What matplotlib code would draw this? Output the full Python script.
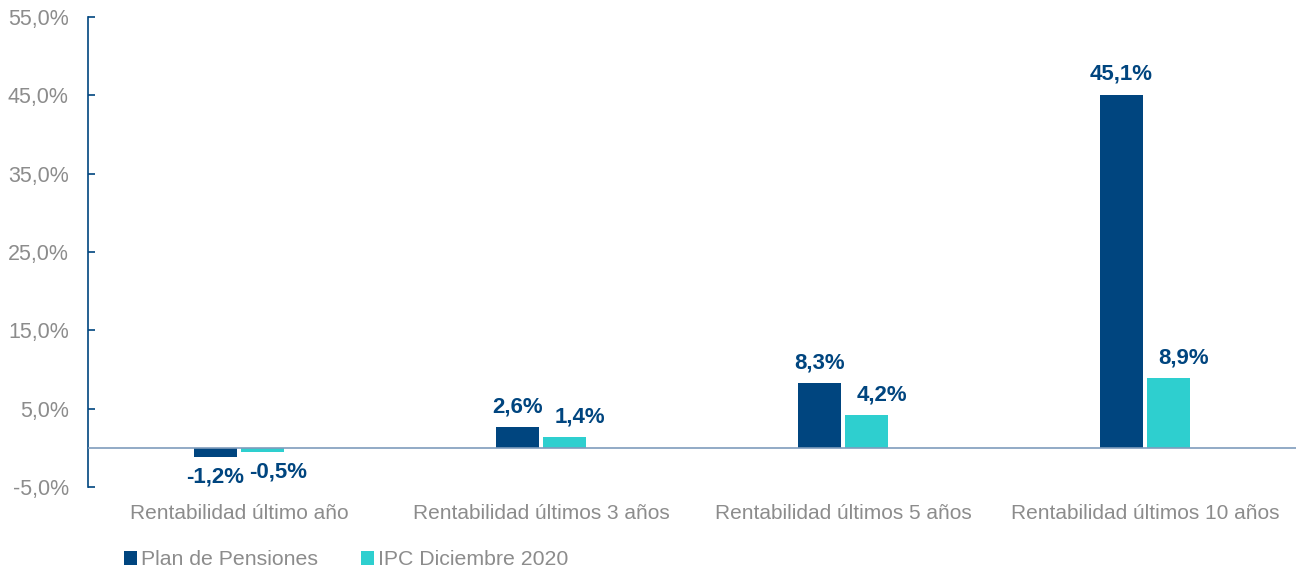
import numpy as np
import matplotlib.pyplot as plt

categorias = ['Rentabilidad último año', 'Rentabilidad últimos 3 años',
              'Rentabilidad últimos 5 años', 'Rentabilidad últimos 10 años']
plan = [-1.2, 2.6, 8.3, 45.1]
ipc = [-0.5, 1.4, 4.2, 8.9]
series = ['Plan de Pensiones', 'IPC Diciembre 2020']

azul = '#00457f'
turquesa = '#2ecfcf'
gris = '#8c8c8c'

plt.rcParams['font.family'] = ['Liberation Sans', 'DejaVu Sans']

fig = plt.figure(figsize=(12.96, 5.72), dpi=100)
ax = fig.add_axes([0.068, 0.1486, 0.932, 0.8217])

x = np.arange(len(categorias))
w = 0.142
off = 0.078
b1 = ax.bar(x - off, plan, w, color=azul, label=series[0])
b2 = ax.bar(x + off, ipc, w, color=turquesa, label=series[1])

# las etiquetas del IPC van algo desplazadas a la derecha
for bars, vals, dx in ((b1, plan, 0), (b2, ipc, 11)):
    for b, v in zip(bars, vals):
        txt = f'{v:.1f}%'.replace('.', ',')
        xc = b.get_x() + b.get_width() / 2
        if v >= 0:
            ax.annotate(txt, (xc, v), xytext=(dx, 7), textcoords='offset points',
                        ha='center', va='bottom', fontsize=16, fontweight='bold', color=azul)
        else:
            ax.annotate(txt, (xc, v), xytext=(dx, -7), textcoords='offset points',
                        ha='center', va='top', fontsize=16, fontweight='bold', color=azul)

ax.set_xlim(-0.5, 3.5)
ax.set_ylim(-5, 55)
yt = [-5, 5, 15, 25, 35, 45, 55]
ax.set_yticks(yt)
ax.set_yticklabels([f'{t:.1f}%'.replace('.', ',') for t in yt], color=gris, fontsize=15.5)
ax.tick_params(axis='y', direction='in', length=5, color=azul, width=1.2, pad=14)
ax.set_xticks(x)
ax.set_xticklabels(categorias, color=gris, fontsize=15)
ax.tick_params(axis='x', length=0, pad=12)

for s in ('top', 'right', 'bottom'):
    ax.spines[s].set_visible(False)
ax.spines['left'].set_color(azul)
ax.spines['left'].set_linewidth(1.2)
ax.axhline(0, color='#7f9cbc', linewidth=1.2, zorder=3)

ax.legend(loc='center left', bbox_to_anchor=(0.03, -0.155), ncol=2, frameon=False,
          fontsize=15.3, labelcolor=gris, handlelength=0.6, handleheight=0.6,
          handletextpad=0.2, columnspacing=2.0, borderaxespad=0, borderpad=0)

fig.savefig('out.png', dpi=100)
